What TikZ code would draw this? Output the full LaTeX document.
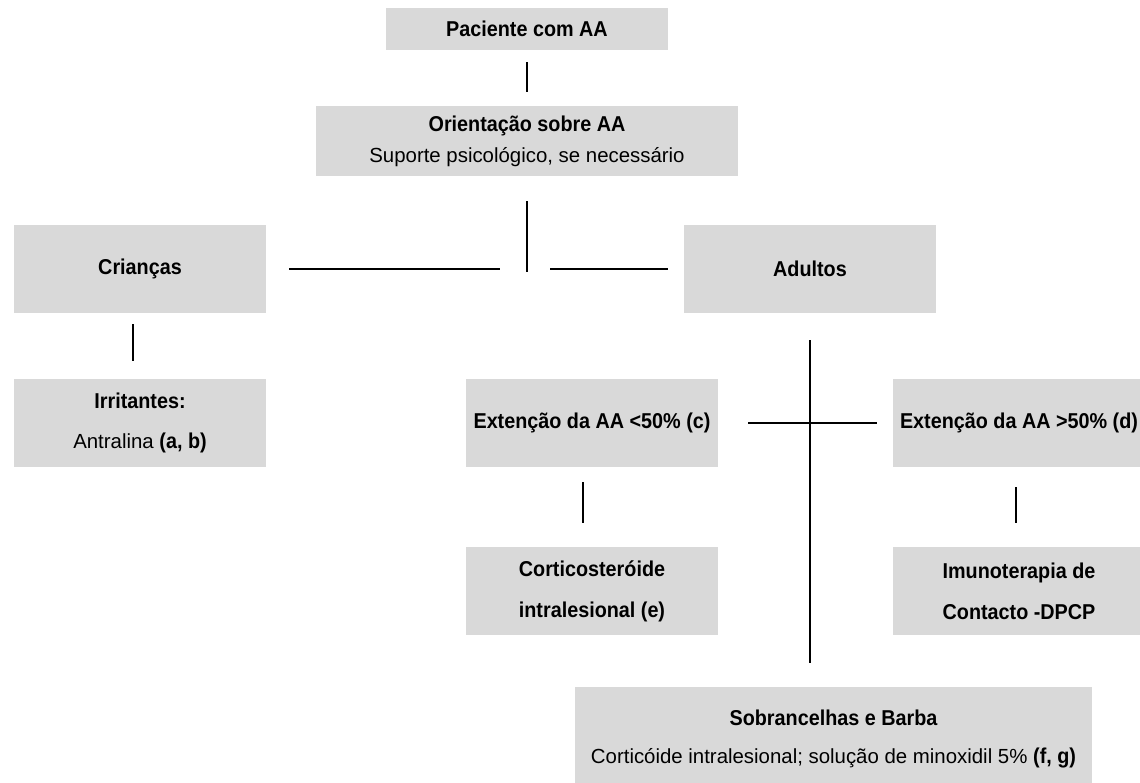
\documentclass[tikz,border=0pt]{standalone}
\usepackage{fontspec}
\setmainfont{Liberation Sans}[BoldFeatures={FakeStretch=0.92}]
\definecolor{boxgray}{RGB}{217,217,217}
\newcommand{\boxtitle}[1]{{\fontsize{10.75pt}{13pt}\selectfont\bfseries #1}}

\begin{document}
\begin{tikzpicture}[x=0.5pt,y=0.5pt]
        \tikzstyle{box}=[fill=boxgray,align=center,inner sep=2pt,minimum width=126pt,minimum height=44pt,font=\fontsize{10.2pt}{13pt}\selectfont]
        \tikzstyle{link}=[draw=black,line width=1.2pt]
        \useasboundingbox (0,0) rectangle (1140,-782);

        % patient
        \node[box,minimum width=141pt,minimum height=21pt] (pac) at (527,-29) {\boxtitle{Paciente com AA}};

        % orientation
        \node[box,below of=pac,node distance=56pt,minimum width=211pt,minimum height=35pt] (ori) {\boxtitle{Orientação sobre AA}\\[2.5pt]Suporte psicológico, se necessário};
        \draw[link,shorten <=6pt,shorten >=7pt] (pac) -- (ori);

        % children / adults
        \node[box] (cri) at (140,-269) {\boxtitle{Crianças}};
        \node[box,right of=cri,node distance=335pt] (adu) {\boxtitle{Adultos}};
        \coordinate (split) at (ori.south |- cri);
        \draw[link,shorten <=12.5pt] (ori) -- ([yshift=-1.5pt]split);
        \draw[link,shorten <=11.5pt,shorten >=13.5pt] (cri) -- (split);
        \draw[link,shorten <=11.5pt,shorten >=8pt] (split) -- (adu);

        % irritants
        \node[box,below of=cri,node distance=77pt] (irr) {\boxtitle{Irritantes:}\\[7pt]Antralina \boxtitle{(a, b)}};
        \draw[link,shorten <=5.5pt,shorten >=9pt] ([xshift=-3.5pt]cri.south) -- ([xshift=-3.5pt]cri.south |- irr.north);

        % extension of the AA
        \node[box] (lt) at (592,-423) {\boxtitle{Extenção da AA <50\% (c)}};
        \node[box,right of=lt,node distance=213.5pt] (gt) {\boxtitle{Extenção da AA >50\% (d)}};
        \draw[link,shorten <=15pt,shorten >=8pt] (lt) -- (gt);

        % treatments
        \node[box,below of=lt,node distance=84pt] (cor) {\boxtitle{Corticosteróide}\\[7.5pt]\boxtitle{intralesional (e)}};
        \draw[link,shorten <=7.5pt,shorten >=12pt] ([xshift=-4.5pt]lt.south) -- ([xshift=-4.5pt]cor.north);

        \node[box,below of=gt,node distance=84pt] (imu) {\boxtitle{Imunoterapia de}\\[7.5pt]\boxtitle{Contacto -DPCP}};
        \draw[link,shorten <=10pt,shorten >=12pt] ([xshift=-1.5pt]gt.south) -- ([xshift=-1.5pt]imu.north);

        % eyebrows and beard
        \node[box,minimum width=258.5pt,minimum height=52pt] (sob) at (833.5,-739) {\boxtitle{Sobrancelhas e Barba}\\[6pt]Corticóide intralesional; solução de minoxidil 5\% \boxtitle{(f, g)}};
        \draw[link,shorten <=13.5pt,shorten >=12pt] (adu.south) -- (adu.south |- sob.north);

    \end{tikzpicture}
\end{document}
